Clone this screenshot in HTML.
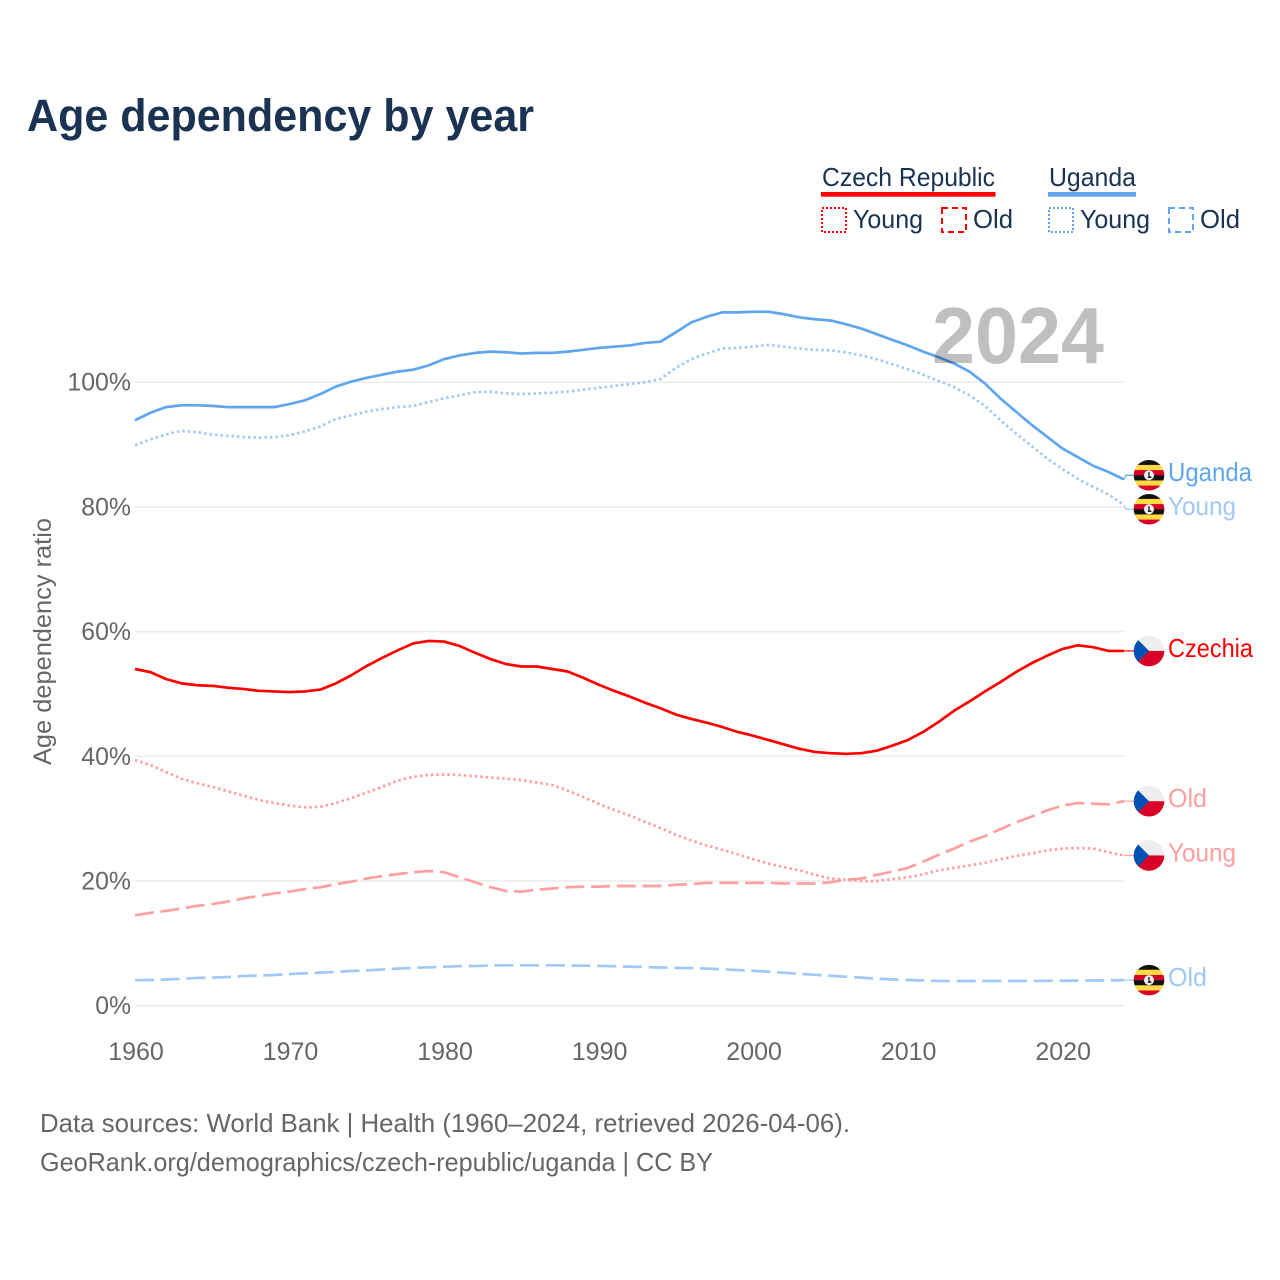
<!DOCTYPE html>
<html lang="en">
<head>
<meta charset="utf-8">
<title>Age dependency by year</title>
<style>
html,body{margin:0;padding:0;background:#fff;}
svg{display:block;font-family:"Liberation Sans",sans-serif;}
</style>
</head>
<body>
<svg id="chart" xmlns="http://www.w3.org/2000/svg" width="1280" height="1280" viewBox="0 0 1280 1280">
  <rect x="0" y="0" width="1280" height="1280" fill="#ffffff"/>
  <text x="27" y="131" font-size="45" font-weight="700" fill="#1a3353" textLength="507" lengthAdjust="spacingAndGlyphs">Age dependency by year</text>

  <g>
    <text x="822" y="186" font-size="26" fill="#1a3353" textLength="173" lengthAdjust="spacingAndGlyphs">Czech Republic</text>
    <rect x="821" y="192" width="174.5" height="4.7" fill="#ff0000"/>
    <text x="1049" y="186" font-size="26" fill="#1a3353" textLength="87" lengthAdjust="spacingAndGlyphs">Uganda</text>
    <rect x="1048" y="192" width="88" height="4.7" fill="#5fa6ee"/>

    <rect x="822" y="208" width="24" height="24" fill="none" stroke="#ff0000" stroke-width="2" stroke-dasharray="2 2"/>
    <text x="853" y="228" font-size="26" fill="#1a3353" textLength="70" lengthAdjust="spacingAndGlyphs">Young</text>
    <rect x="942" y="208" width="24" height="24" fill="none" stroke="#ff0000" stroke-width="2" stroke-dasharray="6 4"/>
    <text x="973" y="228" font-size="26" fill="#1a3353" textLength="40" lengthAdjust="spacingAndGlyphs">Old</text>

    <rect x="1049" y="208" width="24" height="24" fill="none" stroke="#5fa6ee" stroke-width="2" stroke-dasharray="2 2"/>
    <text x="1080" y="228" font-size="26" fill="#1a3353" textLength="70" lengthAdjust="spacingAndGlyphs">Young</text>
    <rect x="1169" y="208" width="24" height="24" fill="none" stroke="#5fa6ee" stroke-width="2" stroke-dasharray="6 4"/>
    <text x="1200" y="228" font-size="26" fill="#1a3353" textLength="40" lengthAdjust="spacingAndGlyphs">Old</text>
  </g>

  <g id="grid"></g>
  <g id="yticks"></g>
  <g id="xticks"></g>
  <text transform="translate(51,641.5) rotate(-90)" text-anchor="middle" font-size="25" fill="#666666" textLength="247" lengthAdjust="spacingAndGlyphs">Age dependency ratio</text>

  <g id="series"></g>
  <g id="endlabels"></g>

  <text x="932" y="363" font-size="80" font-weight="700" fill="#000000" fill-opacity="0.25" textLength="172" lengthAdjust="spacingAndGlyphs">2024</text>

  <text x="40" y="1132" font-size="26" fill="#666666" textLength="810" lengthAdjust="spacingAndGlyphs">Data sources: World Bank | Health (1960–2024, retrieved 2026-04-06).</text>
  <text x="40" y="1171" font-size="26" fill="#666666" textLength="673" lengthAdjust="spacingAndGlyphs">GeoRank.org/demographics/czech-republic/uganda | CC BY</text>
</svg>

<script>
const startYear = 1960;
const yTickValues = [0, 20, 40, 60, 80, 100];
const yTickLabels = ['0%', '20%', '40%', '60%', '80%', '100%'];
const xTickYears = [1960, 1970, 1980, 1990, 2000, 2010, 2020];

const ugandaTotal = [
  93.9,95.1,96.0,96.3,96.3,96.2,96.0,96.0,96.0,96.0,
  96.5,97.1,98.1,99.3,100.1,100.7,101.2,101.7,102.0,102.7,
  103.7,104.3,104.7,104.9,104.8,104.6,104.7,104.7,104.9,105.2,
  105.5,105.7,105.9,106.3,106.5,108.0,109.6,110.5,111.2,111.2,
  111.3,111.3,110.9,110.4,110.1,109.9,109.3,108.6,107.7,106.8,
  105.9,104.9,104.0,103.0,101.7,99.8,97.4,95.3,93.2,91.3,
  89.4,88.0,86.6,85.6,84.4
];
const ugandaYoung = [
  89.9,90.8,91.6,92.2,92.0,91.6,91.4,91.2,91.1,91.2,
  91.5,92.1,92.9,94.1,94.7,95.3,95.7,96.0,96.2,96.8,
  97.4,97.9,98.4,98.5,98.2,98.1,98.2,98.3,98.5,98.8,
  99.1,99.4,99.7,100.0,100.5,102.3,103.7,104.6,105.4,105.5,
  105.7,106.0,105.7,105.4,105.2,105.1,104.8,104.3,103.7,102.9,
  102.1,101.2,100.2,99.2,97.9,96.2,93.9,91.8,89.8,87.8,
  86.1,84.5,83.2,82.0,80.3
];
const ugandaOld = [
  4.07,4.12,4.2,4.3,4.45,4.5,4.6,4.76,4.84,4.92,
  5.08,5.2,5.3,5.43,5.56,5.67,5.8,5.94,6.07,6.15,
  6.25,6.34,6.36,6.45,6.48,6.48,6.48,6.48,6.45,6.42,
  6.38,6.33,6.27,6.2,6.13,6.07,6.03,5.95,5.85,5.72,
  5.6,5.45,5.28,5.12,4.95,4.8,4.65,4.5,4.35,4.22,
  4.12,4.04,3.97,3.95,3.95,3.97,3.97,3.97,3.97,3.98,
  4.0,4.02,4.04,4.05,4.1
];
const czechTotal = [
  54.0,53.5,52.4,51.7,51.4,51.3,51.0,50.8,50.5,50.4,
  50.3,50.4,50.7,51.7,53.0,54.5,55.8,57.0,58.1,58.5,
  58.4,57.7,56.6,55.6,54.8,54.4,54.4,54.0,53.6,52.6,
  51.5,50.5,49.6,48.6,47.7,46.7,46.0,45.4,44.7,43.9,
  43.3,42.6,41.9,41.2,40.7,40.5,40.4,40.5,40.9,41.7,
  42.6,43.9,45.5,47.3,48.8,50.4,51.9,53.5,54.9,56.1,
  57.2,57.8,57.5,56.9,56.9
];
const czechYoung = [
  39.4,38.6,37.5,36.4,35.7,35.1,34.4,33.7,33.0,32.5,
  32.1,31.8,31.9,32.5,33.3,34.2,35.1,36.1,36.7,37.0,
  37.1,37.0,36.8,36.6,36.4,36.2,35.8,35.4,34.5,33.5,
  32.4,31.4,30.5,29.5,28.5,27.4,26.5,25.7,25.0,24.3,
  23.5,22.8,22.2,21.7,21.0,20.4,20.2,20.0,20.0,20.3,
  20.6,21.1,21.7,22.1,22.5,22.9,23.5,24.0,24.4,24.9,
  25.2,25.3,25.2,24.6,24.1
];
const czechOld = [
  14.5,14.9,15.2,15.6,16.0,16.3,16.7,17.2,17.6,18.0,
  18.3,18.7,19.0,19.5,19.9,20.4,20.8,21.1,21.4,21.6,
  21.4,20.6,19.8,19.0,18.4,18.3,18.6,18.8,19.0,19.1,
  19.1,19.2,19.2,19.2,19.2,19.4,19.5,19.7,19.7,19.7,
  19.7,19.7,19.6,19.6,19.6,19.8,20.2,20.4,21.0,21.5,
  22.1,23.1,24.2,25.2,26.3,27.2,28.3,29.4,30.3,31.3,
  32.1,32.5,32.4,32.3,32.8
];

const NS = 'http://www.w3.org/2000/svg';
const xScale = function (year) { return 135 + (year - 1960) * 15.453; };
const yScale = function (value) { return 1005.7 - value * 6.235; };

function make(tag, attrs, parent) {
  const el = document.createElementNS(NS, tag);
  Object.keys(attrs).forEach(function (k) { el.setAttribute(k, attrs[k]); });
  parent.appendChild(el);
  return el;
}

const grid = document.getElementById('grid');
const yticks = document.getElementById('yticks');
const xticks = document.getElementById('xticks');
const seriesGroup = document.getElementById('series');
const labelsGroup = document.getElementById('endlabels');

yTickValues.forEach(function (v, i) {
  const line = make('line', { x1: xScale(1960), x2: xScale(2024), y1: yScale(v), y2: yScale(v), stroke: '#ebebeb', 'stroke-width': 1.5 }, grid);
  
  
  const t = make('text', { x: 131, y: yScale(v) + 8.5, 'text-anchor': 'end', 'font-size': 25, fill: '#666666', textLength: yTickLabels[i].length * 13.9 + 8, lengthAdjust: 'spacingAndGlyphs' }, yticks);
  t.textContent = yTickLabels[i];
  
  
});

xTickYears.forEach(function (year) {
  const t = make('text', { x: xScale(year) + 1, y: 1060, 'text-anchor': 'middle', 'font-size': 25, fill: '#666666' }, xticks);
  t.textContent = String(year);
  
  
});

function drawSeries(values, color, dash, width, name) {
  const pts = values.map(function (v, i) {
    return xScale(startYear + i).toFixed(2) + ',' + yScale(v).toFixed(2);
  }).join(' ');
  const line = make('polyline', { points: pts, fill: 'none', stroke: color, 'stroke-width': width, 'stroke-linejoin': 'round', 'stroke-dasharray': dash }, seriesGroup);
  
  
}

drawSeries(ugandaOld, '#a0c9f5', '19 6.7', 2.7, 'line-uganda-old');
drawSeries(czechOld, '#ff9fa0', '19 6.7', 2.7, 'line-czech-old');
drawSeries(czechYoung, '#ff9fa0', '2.5 3', 2.7, 'line-czech-young');
drawSeries(ugandaYoung, '#a0c9f5', '2.5 3', 2.7, 'line-uganda-young');
drawSeries(czechTotal, '#ff0000', 'none', 2.7, 'line-czechia-total');
drawSeries(ugandaTotal, '#5fa6ee', 'none', 2.7, 'line-uganda-total');

/* End labels: y comes from each series' last value, then collisions are pushed apart. */
const endLabelNames = ['Uganda', 'Young', 'Czechia', 'Old', 'Young', 'Old'];
const endLabelFlags = ['ug', 'ug', 'cz', 'cz', 'cz', 'ug'];
const endLabelColors = ['#5fa6ee', '#a0c9f5', '#ff0000', '#ff9fa0', '#ff9fa0', '#a0c9f5'];
const endLabelSeries = [ugandaTotal, ugandaYoung, czechTotal, czechOld, czechYoung, ugandaOld];
const minGap = 34;

const endYs = endLabelSeries.map(function (s) { return yScale(s[s.length - 1]); });
const placed = endYs.slice();
for (let i = 0; i < placed.length - 1; i++) {
  if (placed[i + 1] - placed[i] < minGap) {
    const mid = (placed[i] + placed[i + 1]) / 2;
    placed[i] = mid - minGap / 2;
    placed[i + 1] = mid + minGap / 2;
  }
}

const defs = make('defs', {}, labelsGroup);
const clip = make('clipPath', { id: 'flag-clip' }, defs);
make('circle', { cx: 0, cy: 0, r: 15.3 }, clip);

function drawUganda(g) {
  const colors = ['#111111', '#ffda44', '#d80027', '#111111', '#ffda44', '#d80027'];
  colors.forEach(function (c, i) {
    make('rect', { x: -16, y: -15.5 + i * 5.17, width: 32, height: 5.3, fill: c }, g);
  });
  make('circle', { cx: 0, cy: 0, r: 5, fill: '#f0f0f0' }, g);
  make('path', { d: 'M-0.8 -3 L0.8 -3 L0.6 0.8 L2.6 1.6 L2.2 2.8 L-1.4 2.8 L-0.6 0.6 Z', fill: '#222222' }, g);
}
function drawCzech(g) {
  make('rect', { x: -16, y: -16, width: 32, height: 16, fill: '#eeeeee' }, g);
  make('rect', { x: -16, y: 0, width: 32, height: 16, fill: '#d80027' }, g);
  make('polygon', { points: '-16,-16 0,0 -16,16', fill: '#0052b4' }, g);
}

endLabelNames.forEach(function (name, i) {
  const color = endLabelColors[i];
  const y = placed[i];
  const conn = make('polyline', {
    points: xScale(2024) + ',' + endYs[i] + ' ' + (xScale(2024) + 2) + ',' + y + ' 1134,' + y,
    fill: 'none', stroke: color, 'stroke-width': 1.2
  }, labelsGroup);
  
  

  const wrap = make('g', { transform: 'translate(1149,' + y + ')' }, labelsGroup);
  
  
  const flag = make('g', { 'clip-path': 'url(#flag-clip)' }, wrap);
  if (endLabelFlags[i] === 'ug') { drawUganda(flag); } else { drawCzech(flag); }

  const widths = { Uganda: 84, Young: 68, Czechia: 85, Old: 39 };
  const t = make('text', { x: 1168, y: y + 6, 'font-size': 26, fill: color, textLength: widths[name], lengthAdjust: 'spacingAndGlyphs' }, labelsGroup);
  t.textContent = name;
  
  
});
</script>
</body>
</html>
